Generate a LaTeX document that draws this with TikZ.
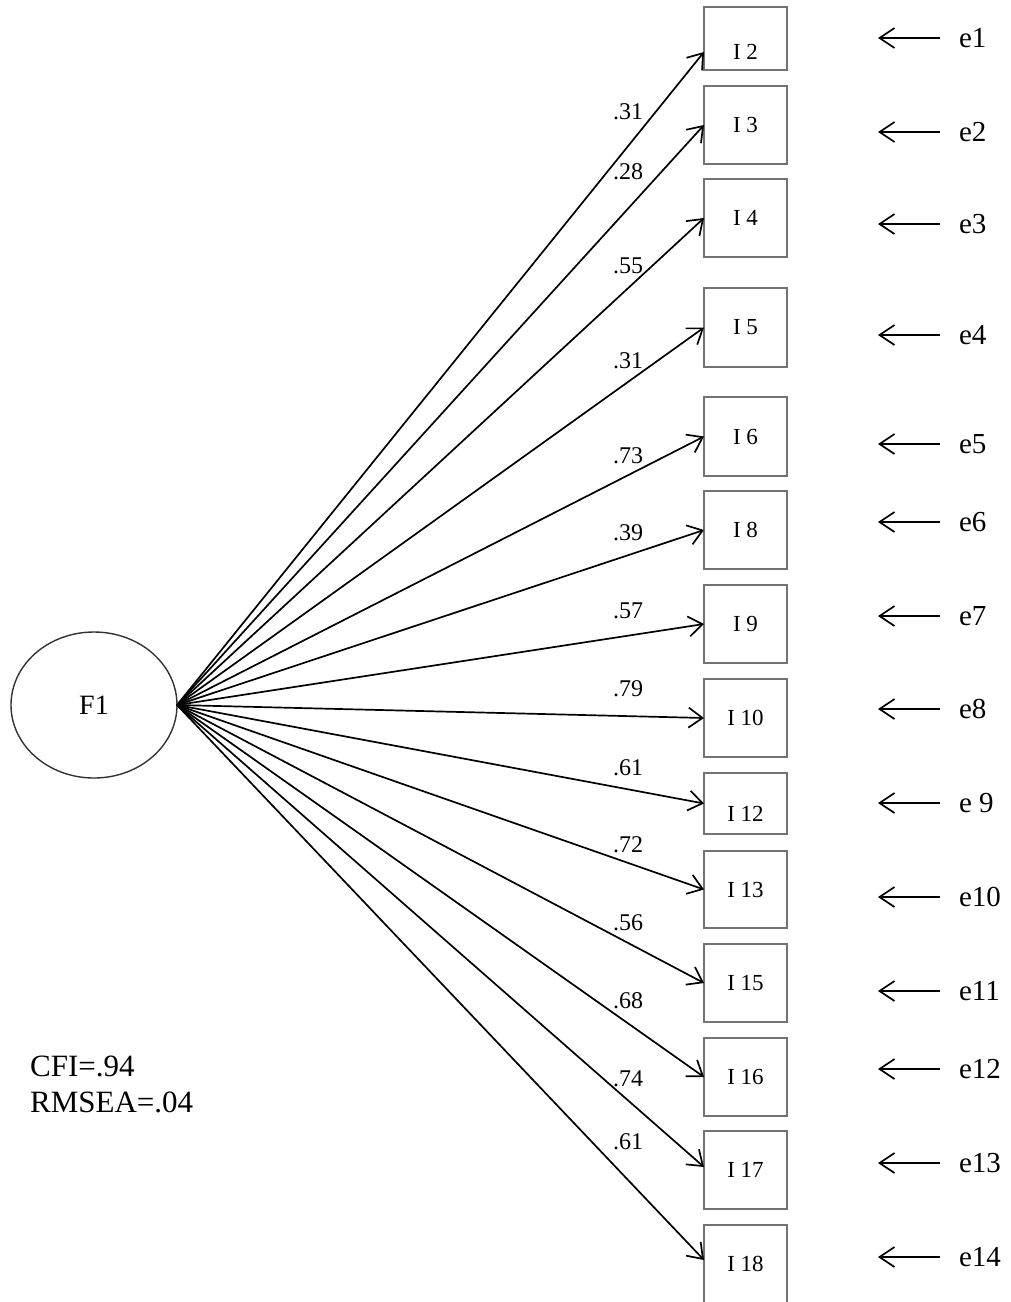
\documentclass[tikz,border=0pt]{standalone}
\usepackage{fontspec}
\setmainfont{Liberation Serif}
\usetikzlibrary{arrows.meta,shapes.geometric}
\begin{document}
\begin{tikzpicture}[x=1pt,y=-1pt,
  item/.style={draw=black!55, line width=1.4pt, minimum width=83pt, minimum height=78pt,
    inner sep=0pt, outer sep=0pt, font=\fontsize{23}{23}\selectfont},
  latent/.style={draw=black!80, line width=1.4pt, ellipse, minimum width=166pt, minimum height=146pt,
    inner sep=0pt, outer sep=0pt, font=\fontsize{28}{28}\selectfont},
  load/.style={-{Straight Barb[length=14pt,width=20pt,line width=1.7pt]}, line width=1.7pt},
  earrow/.style={-{Straight Barb[length=15pt,width=20pt,line width=1.7pt]}, line width=1.7pt},
  coef/.style={inner sep=0pt, font=\fontsize{24}{24}\selectfont},
  err/.style={anchor=west, inner xsep=19pt, inner ysep=0pt, outer sep=0pt, font=\fontsize{29}{29}\selectfont},
  lowtext/.style={text height=#1, text depth=0pt}
]
\useasboundingbox (0,0) rectangle (1011,1302);

% latent factor
\node[latent] (f1) at (94,705) {F1};

% indicators
\node[item, minimum height=63pt, lowtext=42.4pt] (i2) at (745.5,38.5) {I 2};
\node[item] (i3)  at (745.5,125)   {I 3};
\node[item] (i4)  at (745.5,218)   {I 4};
\node[item, minimum height=79pt] (i5)  at (745.5,327.5) {I 5};
\node[item, minimum height=79pt] (i6)  at (745.5,436.5) {I 6};
\node[item] (i8)  at (745.5,530)   {I 8};
\node[item] (i9)  at (745.5,624)   {I 9};
\node[item] (i10) at (745.5,718)   {I 10};
\node[item, minimum height=61pt, lowtext=36.4pt] (i12) at (745.5,803.5) {I 12};
\node[item, minimum height=77pt] (i13) at (745.5,889.5) {I 13};
\node[item] (i15) at (745.5,983)   {I 15};
\node[item] (i16) at (745.5,1077)  {I 16};
\node[item] (i17) at (745.5,1170)  {I 17};
\node[item] (i18) at (745.5,1264)  {I 18};

% loadings
\draw[load] (f1.east) -- ([yshift=-13.5pt]i2.west);
\draw[load] (f1.east) -- (i3.west);
\draw[load] (f1.east) -- (i4.west);
\draw[load] (f1.east) -- (i5.west);
\draw[load] (f1.east) -- (i6.west);
\draw[load] (f1.east) -- (i8.west);
\draw[load] (f1.east) -- (i9.west);
\draw[load] (f1.east) -- (i10.west);
\draw[load] (f1.east) -- (i12.west);
\draw[load] (f1.east) -- (i13.west);
\draw[load] (f1.east) -- (i15.west);
\draw[load] (f1.east) -- (i16.west);
\draw[load] (f1.east) -- ([yshift=3pt]i17.west);
\draw[load] (f1.east) -- ([yshift=4pt]i18.west);

% loading values
\node[coef] (c2)  at (628,112)  {.31};
\node[coef] (c3)  at (628,172)  {.28};
\node[coef] (c4)  at (628,266)  {.55};
\node[coef] (c5)  at (628,361)  {.31};
\node[coef] (c6)  at (628,456)  {.73};
\node[coef] (c8)  at (628,533)  {.39};
\node[coef] (c9)  at (628,611)  {.57};
\node[coef] (c10) at (628,689)  {.79};
\node[coef] (c12) at (628,768)  {.61};
\node[coef] (c13) at (628,845)  {.72};
\node[coef] (c15) at (628,923)  {.56};
\node[coef] (c16) at (628,1001) {.68};
\node[coef] (c17) at (628,1079) {.74};
\node[coef] (c18) at (628,1142) {.61};

% error terms
\foreach \k/\y/\lab in {1/38/e1, 2/132/e2, 3/224/e3, 4/335/e4, 5/444/e5, 6/522/e6, 7/616/e7,
    8/709/e8, 9/803/{e 9}, 10/897/e10, 11/991/e11, 12/1069/e12, 13/1163/e13, 14/1257/e14} {
  \coordinate (t\k) at (878,\y);
  \node[err] (e\k) at (940,\y) {\lab};
  \draw[earrow] (e\k) -- (t\k);
}

% fit indices
\node[anchor=west, align=left, inner sep=0pt, font=\fontsize{31}{36}\selectfont] (fit) at (30,1084)
  {CFI=.94\\RMSEA=.04};
\end{tikzpicture}
\end{document}
